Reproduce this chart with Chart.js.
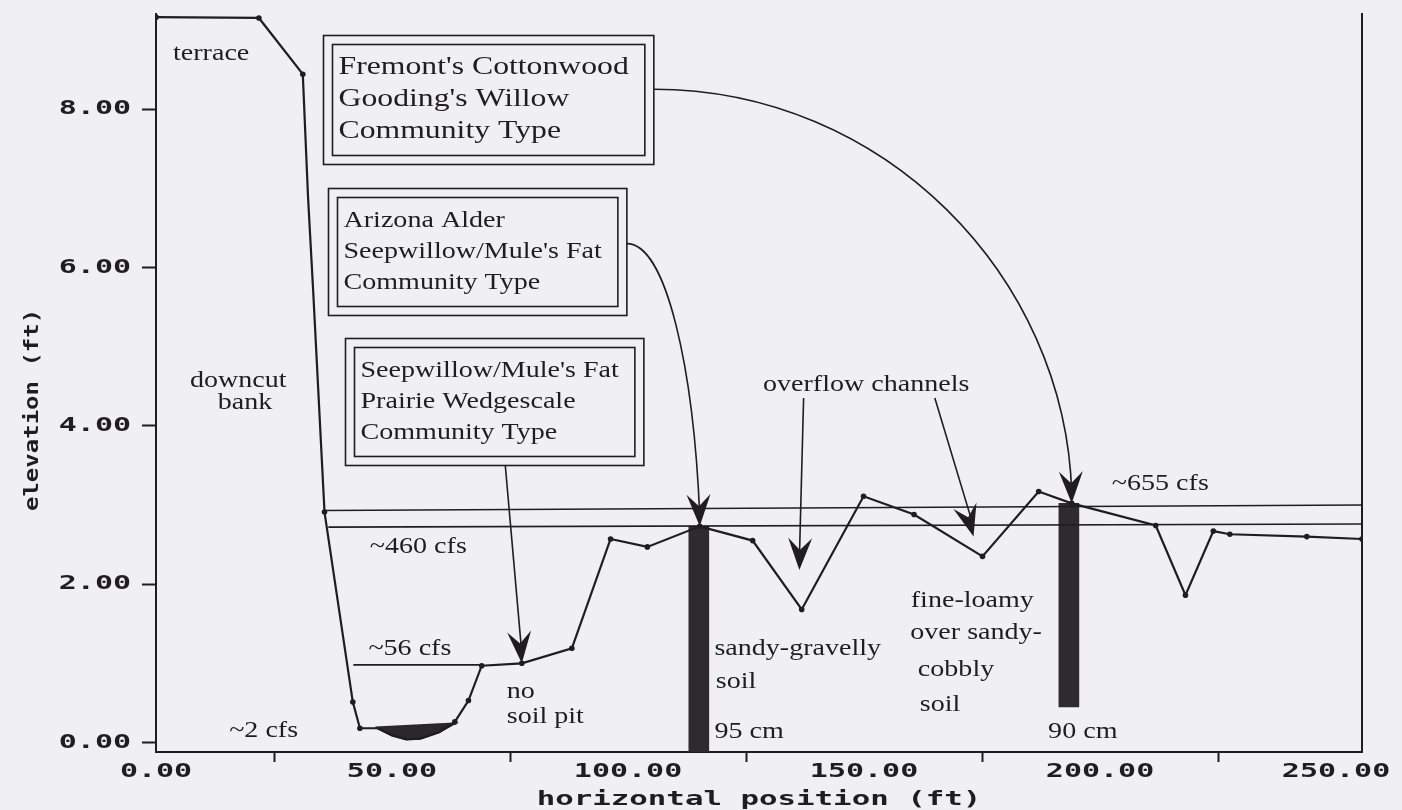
<!DOCTYPE html>
<html>
<head>
<meta charset="utf-8">
<script src="https://cdn.jsdelivr.net/npm/chart.js@4.4.1/dist/chart.umd.min.js"></script>
<style>
  html, body { margin: 0; padding: 0; background: #f0eff4; }
  #wrap { width: 1402px; height: 810px; }
</style>
</head>
<body>
<div id="wrap"><canvas id="profileChart" width="1402" height="810"></canvas></div>
<script>
// ground survey along the transect (ft)
var stationFt = [0, 21.8, 31.1, 32.2, 33.3, 35.7, 41.7, 43.2, 47, 50, 53, 56, 60, 63.3, 66.2, 69.0, 77.5, 88.1, 96.3, 104.1, 115.2, 126.4, 136.8, 149.9, 160.6, 175.1, 187.0, 194.0, 211.8, 218.1, 224.0, 227.5, 243.8, 255.5];
var elevFt    = [9.16, 9.15, 8.44, 6.9, 5.7, 2.91, 0.51, 0.18, 0.18, 0.09, 0.04, 0.05, 0.13, 0.26, 0.53, 0.97, 1.0, 1.19, 2.57, 2.47, 2.73, 2.55, 1.68, 3.11, 2.88, 2.35, 3.17, 3.02, 2.74, 1.86, 2.67, 2.63, 2.60, 2.57];

// water surfaces for the flows
var q655X = [35.7, 255.5], q655Y = [2.93, 3.0];
var q460X = [36.5, 255.5], q460Y = [2.72, 2.76];
var q56X  = [41.8, 69.0],  q56Y  = [0.98, 0.98];
var q2X = [46.5, 63.3, 60, 56, 53, 50, 46.5];
var q2Y = [0.19, 0.24, 0.13, 0.05, 0.04, 0.09, 0.19];

// soil pits: station, top and bottom elevation
var pitX = [115.0, 193.4];
var pitTop = [2.73, 3.02];
var pitBottom = [-0.12, 0.45];

var xTicks = [0, 50, 100, 150, 200, 250];
var xTickLabels = ['0.00', '50.00', '100.00', '150.00', '200.00', '250.00'];
var yTicks = [0, 2, 4, 6, 8];
var yTickLabels = ['0.00', '2.00', '4.00', '6.00', '8.00'];

var ink = '#1f1d21';
var serif = '23px "Liberation Serif"';
var serifBig = '26px "Liberation Serif"';
var serifStretch = 1.22;
var plotFont = 'bold 20px "DejaVu Sans Mono"';
// survey points drawn without a dot (bank face, under the low-flow water)
var noDot = [3, 4, 8, 9, 10, 11, 12];

function pairs(xs, ys) {
  return xs.map(function(x, i) { return { x: x, y: ys[i] }; });
}

function stretchText(ctx, s, x, y, font, sx, align) {
  ctx.save();
  ctx.translate(x, y);
  ctx.scale(sx, 1);
  ctx.font = font;
  ctx.textAlign = align || 'left';
  ctx.textBaseline = 'middle';
  ctx.fillText(s, 0, 0);
  ctx.restore();
}

function arrowHead(ctx, x, y, ang) {
  ctx.save();
  ctx.translate(x, y);
  ctx.rotate(ang);
  ctx.beginPath();
  ctx.moveTo(0, 0);
  ctx.lineTo(-32, -12);
  ctx.lineTo(-20, 0);
  ctx.lineTo(-32, 12);
  ctx.closePath();
  ctx.fill();
  ctx.restore();
}

// boxed community types (top-left corner in data units)
var boxes = [
  { x: 35.4, y: 8.93, font: serifBig, lead: 32, lines: ["Fremont's Cottonwood", "Gooding's Willow", "Community Type"] },
  { x: 36.4, y: 7.0, font: serif, lead: 31, lines: ["Arizona Alder", "Seepwillow/Mule's Fat", "Community Type"] },
  { x: 40.1, y: 5.11, font: serif, lead: 31, lines: ["Seepwillow/Mule's Fat", "Prairie Wedgescale", "Community Type"] }
];

var notes = [
  { t: 'terrace', x: 3.6, y: 8.70 },
  { t: 'downcut', x: 7.2, y: 4.57 },
  { t: 'bank', x: 13.1, y: 4.29 },
  { t: '~460 cfs', x: 45.3, y: 2.47 },
  { t: '~56 cfs', x: 45.0, y: 1.18 },
  { t: '~2 cfs', x: 15.5, y: 0.15 },
  { t: 'no', x: 74.3, y: 0.64 },
  { t: 'soil pit', x: 74.3, y: 0.32 },
  { t: 'overflow channels', x: 128.6, y: 4.51 },
  { t: '~655 cfs', x: 202.5, y: 3.27 },
  { t: 'sandy-gravelly', x: 118.3, y: 1.18 },
  { t: 'soil', x: 118.6, y: 0.76 },
  { t: '95 cm', x: 118.3, y: 0.13 },
  { t: 'fine-loamy', x: 159.9, y: 1.79 },
  { t: 'over sandy-', x: 159.8, y: 1.38 },
  { t: 'cobbly', x: 161.4, y: 0.91 },
  { t: 'soil', x: 161.8, y: 0.47 },
  { t: '90 cm', x: 189.0, y: 0.13 }
];

var notesPlugin = {
  id: 'crossSectionNotes',
  afterDatasetsDraw: function(chart) {
    var ctx = chart.ctx, xs = chart.scales.x, ys = chart.scales.y;
    var px = function(v) { return xs.getPixelForValue(v); };
    var py = function(v) { return ys.getPixelForValue(v); };
    ctx.save();
    ctx.fillStyle = ink;
    ctx.strokeStyle = ink;

    var edges = [];
    boxes.forEach(function(b) {
      ctx.font = b.font;
      var w = 0;
      b.lines.forEach(function(t) { w = Math.max(w, ctx.measureText(t).width * serifStretch); });
      var x0 = Math.round(px(b.x)) + 0.5, y0 = Math.round(py(b.y)) + 0.5;
      var innerW = w + 22, innerH = 23 + (b.lines.length - 1) * b.lead + 24;
      ctx.lineWidth = 1.6;
      ctx.strokeRect(x0, y0, innerW + 18, innerH + 18);
      ctx.strokeRect(x0 + 9, y0 + 9, innerW, innerH);
      b.lines.forEach(function(t, i) {
        stretchText(ctx, t, x0 + 15, y0 + 32 + i * b.lead, b.font, serifStretch, 'left');
      });
      edges.push({ left: x0, right: x0 + innerW + 18, top: y0, bottom: y0 + innerH + 18 });
    });

    ctx.lineWidth = 1.6;
    // curved leaders from the two upper boxes to the pits
    [[0, 8.25, 194.0, 3.02], [1, 6.3, 115.2, 2.73]].forEach(function(a) {
      var sx = edges[a[0]].right, sy = py(a[1]);
      var tx = px(a[2]), ty = py(a[3]);
      var c1x = sx + 0.55 * (tx - sx), c1y = sy;
      var c2x = tx - 6, c2y = ty + 0.55 * (sy - ty);
      ctx.beginPath();
      ctx.moveTo(sx, sy);
      ctx.bezierCurveTo(c1x, c1y, c2x, c2y, tx, ty - 10);
      ctx.stroke();
      arrowHead(ctx, tx, ty, Math.atan2(ty - c2y, tx - c2x));
    });

    // straight leaders
    var straight = [
      [px(74.0), edges[2].bottom, px(77.5), py(1.0)],
      [px(137.2), py(4.35), px(136.3), py(2.18)],
      [px(165.0), py(4.35), px(173.2), py(2.6)]
    ];
    straight.forEach(function(s) {
      ctx.beginPath();
      ctx.moveTo(s[0], s[1]);
      ctx.lineTo(s[2], s[3] - 10);
      ctx.stroke();
      arrowHead(ctx, s[2], s[3], Math.atan2(s[3] - s[1], s[2] - s[0]));
    });

    notes.forEach(function(n) {
      stretchText(ctx, n.t, px(n.x), py(n.y), serif, serifStretch, 'left');
    });
    ctx.restore();
  },
  afterDraw: function(chart) {
    var ctx = chart.ctx, xs = chart.scales.x, ys = chart.scales.y;
    ctx.save();
    ctx.fillStyle = ink;
    xTicks.forEach(function(v, i) {
      stretchText(ctx, xTickLabels[i], xs.getPixelForValue(v), xs.top + 20, plotFont, 1.5, 'center');
    });
    yTicks.forEach(function(v, i) {
      stretchText(ctx, yTickLabels[i], 131, ys.getPixelForValue(v), plotFont, 1.5, 'right');
    });
    stretchText(ctx, 'horizontal position (ft)', (chart.chartArea.left + chart.chartArea.right) / 2, 800,
      'bold 19px "DejaVu Sans Mono"', 1.62, 'center');
    ctx.translate(33, ys.getPixelForValue(4.2));
    ctx.rotate(-Math.PI / 2);
    stretchText(ctx, 'elevation (ft)', 0, 0, 'bold 20px "DejaVu Sans Mono"', 1.2, 'center');
    ctx.restore();
  }
};

var tickGrid = function(len) {
  return { display: true, drawOnChartArea: false, drawTicks: true, tickLength: len, tickColor: ink, tickWidth: 2 };
};

new Chart(document.getElementById('profileChart').getContext('2d'), {
  type: 'line',
  data: {
    datasets: [
      { label: 'ground', data: pairs(stationFt, elevFt), borderColor: ink, borderWidth: 2.2,
        pointRadius: function(c) { return noDot.indexOf(c.dataIndex) >= 0 ? 0 : 2.8; },
        pointBackgroundColor: ink, pointBorderWidth: 0, tension: 0, order: 1 },
      { label: '655 cfs', data: pairs(q655X, q655Y), borderColor: ink, borderWidth: 1.6, pointRadius: 0, order: 2 },
      { label: '460 cfs', data: pairs(q460X, q460Y), borderColor: ink, borderWidth: 1.6, pointRadius: 0, order: 2 },
      { label: '56 cfs', data: pairs(q56X, q56Y), borderColor: ink, borderWidth: 1.6, pointRadius: 0, order: 2 },
      { label: '2 cfs', data: pairs(q2X, q2Y), fill: 'shape', backgroundColor: '#2b272b', borderColor: '#2b272b',
        borderWidth: 2, pointRadius: 0, order: 2 },
      { type: 'bar', label: 'soil pits', data: pitX.map(function(x, i) { return { x: x, y: [pitBottom[i], pitTop[i]] }; }),
        backgroundColor: '#2e2a2e', barThickness: 20, order: 3 }
    ]
  },
  options: {
    responsive: false,
    animation: false,
    devicePixelRatio: 1,
    layout: { padding: { top: 14, left: 0, right: 0, bottom: 0 } },
    plugins: { legend: { display: false }, tooltip: { enabled: false }, title: { display: false } },
    scales: {
      x: {
        type: 'linear', min: 0, max: 255.5, offset: false,
        afterBuildTicks: function(s) { s.ticks = xTicks.map(function(v) { return { value: v }; }); },
        afterFit: function(s) { s.height = 58; },
        ticks: { display: false },
        grid: tickGrid(10),
        border: { display: true, color: ink, width: 2 }
      },
      y: {
        type: 'linear', min: -0.12, max: 9.2,
        afterBuildTicks: function(s) { s.ticks = yTicks.map(function(v) { return { value: v }; }); },
        afterFit: function(s) { s.width = 156; },
        ticks: { display: false },
        grid: tickGrid(14),
        border: { display: true, color: ink, width: 2 }
      },
      y2: {
        type: 'linear', position: 'right', min: -0.12, max: 9.2,
        afterFit: function(s) { s.width = 40; },
        ticks: { display: false },
        grid: { display: false },
        border: { display: true, color: ink, width: 2 }
      }
    }
  },
  plugins: [notesPlugin]
});
</script>
</body>
</html>
